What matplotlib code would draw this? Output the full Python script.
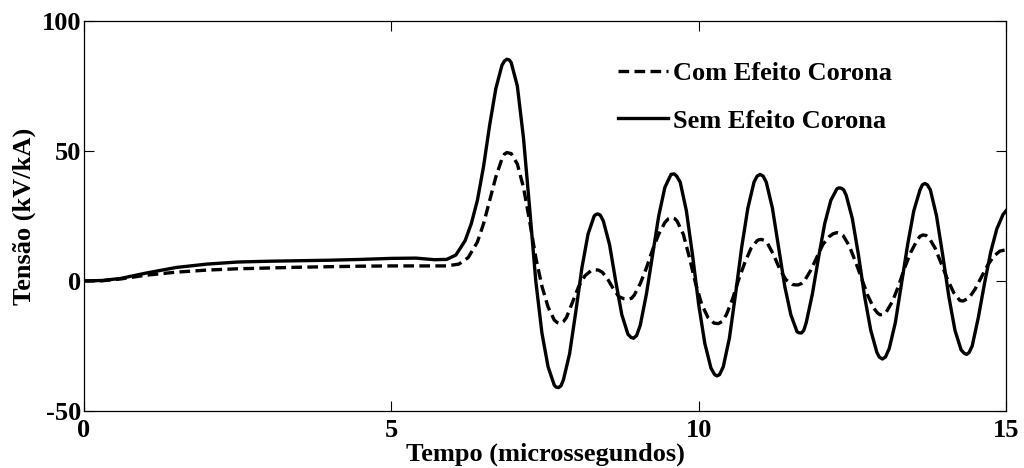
import matplotlib
matplotlib.use("Agg")
import matplotlib.pyplot as plt

# Tempo em microssegundos e tensão em kV/kA
t_sem = [0.0, 0.3, 0.6, 1.0, 1.5, 2.0, 2.5, 3.0, 3.5, 4.0, 4.5, 5.0, 5.4, 5.7, 5.9,
         6.05, 6.2, 6.3, 6.4, 6.5, 6.6, 6.7, 6.8, 6.84, 6.88, 6.92, 6.95, 7.05, 7.15,
         7.25, 7.35, 7.45, 7.55, 7.65, 7.68, 7.72, 7.76, 7.8, 7.9, 8.0, 8.1, 8.2, 8.3,
         8.33, 8.36, 8.40, 8.45, 8.55, 8.65, 8.75, 8.85, 8.90, 8.94, 8.99, 9.05, 9.15,
         9.25, 9.35, 9.45, 9.55, 9.6, 9.64, 9.7, 9.8, 9.9, 10.0, 10.1, 10.2, 10.26,
         10.3, 10.34, 10.4, 10.5, 10.6, 10.7, 10.8, 10.9, 10.95, 11.0, 11.05, 11.1,
         11.2, 11.3, 11.4, 11.5, 11.6, 11.63, 11.67, 11.71, 11.75, 11.85, 11.95,
         12.05, 12.15, 12.25, 12.28, 12.32, 12.36, 12.4, 12.5, 12.6, 12.7, 12.8,
         12.9, 12.94, 12.99, 13.04, 13.1, 13.2, 13.3, 13.4, 13.5, 13.6, 13.64, 13.68,
         13.72, 13.77, 13.87, 13.97, 14.07, 14.17, 14.27, 14.32, 14.36, 14.40, 14.45,
         14.55, 14.65, 14.75, 14.85, 14.95, 15.0]
v_sem = [0.0, 0.2, 1.0, 3.0, 5.2, 6.5, 7.3, 7.6, 7.8, 8.0, 8.3, 8.7, 8.8, 8.2, 8.3,
         10.0, 15.5, 22.0, 31.0, 44.0, 60.0, 74.0, 83.0, 84.6, 85.3, 85.0, 84.0, 75.0, 55.0,
         28.0, 0.0, -20.0, -33.0, -40.0, -40.8, -41.0, -40.3, -38.0, -28.0, -12.0, 5.0, 18.0, 25.0,
         25.6, 25.8, 25.3, 23.0, 14.0, 0.0, -13.0, -20.5, -21.7, -22.0, -21.0, -17.0, -5.0,
         10.0, 25.0, 36.0, 41.0, 41.2, 40.4, 38.0, 27.0, 10.0, -9.0, -24.0, -33.5, -36.0,
         -36.5, -36.0, -33.0, -22.0, -5.0, 13.0, 28.0, 38.0, 40.3, 41.0, 40.3, 38.0,
         28.0, 13.0, -2.0, -13.0, -19.5, -19.9, -20.0, -19.0, -16.0, -5.0, 9.0,
         22.0, 31.0, 35.5, 35.8, 35.7, 35.0, 33.0, 24.0, 10.0, -6.0, -19.0,
         -27.5, -29.3, -30.0, -29.2, -26.0, -16.0, -1.0, 14.0, 27.0, 35.0, 37.0, 37.5,
         37.0, 35.0, 25.0, 10.0, -6.0, -19.0, -26.5, -27.8, -28.2, -27.5, -25.0,
         -14.0, -1.0, 11.0, 20.0, 25.5, 27.0]

t_com = [0.0, 0.3, 0.6, 1.0, 1.5, 2.0, 2.5, 3.0, 3.5, 4.0, 4.5, 5.0, 5.5, 5.9,
         6.1, 6.25, 6.4, 6.5, 6.6, 6.7, 6.8, 6.84, 6.88, 6.95, 7.05, 7.15, 7.25, 7.35,
         7.45, 7.55, 7.65, 7.7, 7.75, 7.8, 7.85, 7.95, 8.05, 8.15, 8.25, 8.31, 8.37,
         8.43, 8.5, 8.6, 8.7, 8.78, 8.86, 8.91, 8.95, 9.05, 9.15, 9.25, 9.35, 9.45,
         9.51, 9.56, 9.61, 9.65, 9.75, 9.85, 9.95, 10.05, 10.15, 10.25, 10.32, 10.38,
         10.45, 10.55, 10.65, 10.75, 10.85, 10.95, 10.98, 11.02, 11.07, 11.12, 11.22,
         11.32, 11.42, 11.52, 11.57, 11.62, 11.67, 11.72, 11.82, 11.92, 12.02, 12.12,
         12.19, 12.25, 12.30, 12.35, 12.45, 12.55, 12.65, 12.75, 12.85, 12.91, 12.95,
         13.0, 13.05, 13.15, 13.25, 13.35, 13.45, 13.55, 13.6, 13.65, 13.7, 13.75,
         13.85, 13.95, 14.05, 14.15, 14.25, 14.3, 14.4, 14.5, 14.6, 14.7, 14.8, 14.9,
         15.0]
v_com = [0.0, 0.1, 0.8, 2.2, 3.4, 4.2, 4.7, 5.0, 5.3, 5.5, 5.7, 5.8, 5.8, 5.8,
         6.5, 9.0, 15.0, 22.0, 31.0, 40.0, 47.0, 48.8, 49.4, 49.0, 45.0, 36.0, 23.0, 9.0,
         -2.0, -10.0, -15.0, -16.0, -16.4, -15.6, -14.0, -8.0, -2.0, 2.0, 4.0, 4.3, 4.2,
         3.4, 1.5, -2.5, -6.0, -6.8, -7.0, -6.6, -5.5, -1.0, 5.0, 12.0, 18.0, 22.5,
         24.0, 24.4, 24.0, 23.0, 18.0, 9.0, -1.0, -9.0, -14.0, -16.2, -16.4, -15.6,
         -13.0, -7.0, 0.5, 7.0, 12.5, 15.5, 15.9, 16.0, 15.6, 14.5, 10.0,
         4.5, 0.5, -1.3, -1.5, -1.5, -1.0, 0.0, 4.0, 9.0, 14.0, 17.0,
         18.2, 18.6, 18.3, 17.5, 13.5, 7.5, 1.0, -5.5, -10.5, -12.3, -13.0,
         -12.8, -12.0, -8.0, -2.0, 5.0, 11.0, 15.5, 17.2, 17.7, 17.5, 16.5,
         12.5, 6.5, 0.5, -4.5, -7.5, -7.7, -6.5, -3.0, 1.5, 6.0, 9.5, 11.5,
         12.0]

x_ticks = [0, 5, 10, 15]
y_ticks = [-50, 0, 50, 100]

plt.rcParams['font.family'] = ['Liberation Serif', 'DejaVu Serif']
plt.rcParams['font.weight'] = 'bold'
plt.rcParams['axes.unicode_minus'] = False
FS = 19

fig = plt.figure(figsize=(10.24, 4.68), dpi=100)
ax = fig.add_axes([84 / 1024, 1 - 411 / 468, 922 / 1024, 390 / 468])

ax.plot(t_com, v_com, color='black', lw=2.4, linestyle=(0, (3.2, 1.6)),
        dash_joinstyle='round', label='Com Efeito Corona')
ax.plot(t_sem, v_sem, color='black', lw=2.4, linestyle='-',
        solid_joinstyle='round', label='Sem Efeito Corona')

ax.set_xlim(0, 15)
ax.set_ylim(-50, 100)
ax.set_xticks(x_ticks)
ax.set_yticks(y_ticks)
ax.tick_params(direction='in', length=7, width=0.8, top=True, right=True,
               labelsize=FS, pad=2)
ax.tick_params(axis='x', pad=6)
for lab in ax.get_xticklabels() + ax.get_yticklabels():
    lab.set_fontweight('bold')
for sp in ax.spines.values():
    sp.set_linewidth(0.9)

ax.set_xlabel('Tempo (microssegundos)', fontsize=FS, fontweight='bold', labelpad=0)
ax.set_ylabel('Tensão (kV/kA)', fontsize=FS, fontweight='bold', labelpad=4)

ax.legend(loc='upper left', bbox_to_anchor=(0.579, 0.895), frameon=False,
          prop={'weight': 'bold', 'size': FS},
          handlelength=1.9, handletextpad=0.2, labelspacing=0.9,
          borderpad=0, borderaxespad=0)

fig.savefig('out.png', dpi=100)
